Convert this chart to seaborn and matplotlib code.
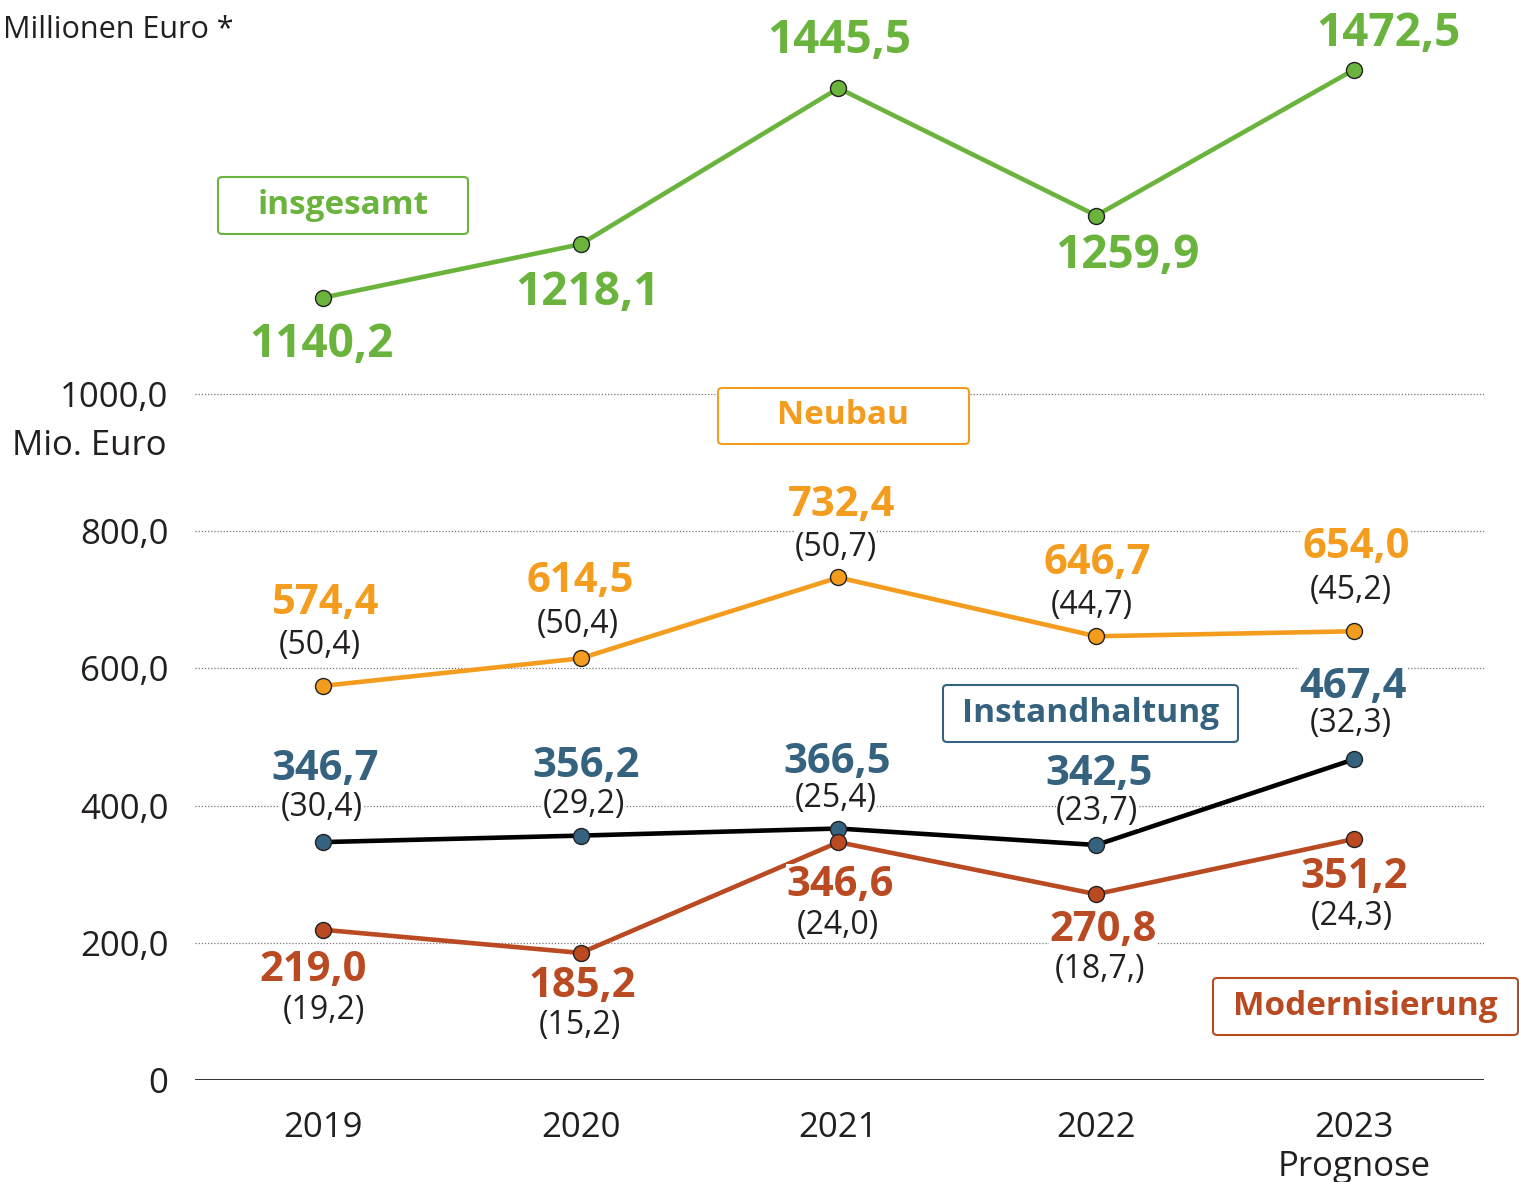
import pandas as pd
import seaborn as sns
import matplotlib.pyplot as plt
from matplotlib.patches import FancyBboxPatch

years = [2019, 2020, 2021, 2022, 2023]
year_labels = ['2019', '2020', '2021', '2022', '2023\nPrognose']

insgesamt = [1140.2, 1218.1, 1445.5, 1259.9, 1472.5]
neubau = [574.4, 614.5, 732.4, 646.7, 654.0]
instandhaltung = [346.7, 356.2, 366.5, 342.5, 467.4]
modernisierung = [219.0, 185.2, 346.6, 270.8, 351.2]

neubau_anteil = ['(50,4)', '(50,4)', '(50,7)', '(44,7)', '(45,2)']
instand_anteil = ['(30,4)', '(29,2)', '(25,4)', '(23,7)', '(32,3)']
modern_anteil = ['(19,2)', '(15,2)', '(24,0)', '(18,7,)', '(24,3)']

yticks = [0, 200, 400, 600, 800, 1000]
ytick_labels = ['0', '200,0', '400,0', '600,0', '800,0', '1000,0']

GREEN = '#6ab43e'
ORANGE = '#f49c1d'
BLUE = '#35627e'
RED = '#b94a22'
DARK = '#231f20'

sns.set_theme(style='white')
plt.rcParams['font.family'] = ['Open Sans', 'DejaVu Sans']

W, H = 1519, 1182
fig = plt.figure(figsize=(W / 100, H / 100), dpi=100)
ax = fig.add_axes([195 / W, 1 - 1080 / H, (1484 - 195) / W, 1080 / H])

df = pd.DataFrame({'Jahr': years, 'insgesamt': insgesamt, 'Neubau': neubau,
                   'Instandhaltung': instandhaltung, 'Modernisierung': modernisierung})

for ytk in yticks[1:]:
    ax.axhline(ytk, color='#777777', lw=0.9, ls=(0, (1, 1.5)), zorder=0)
ax.axhline(0, color=DARK, lw=2, zorder=1)

series = [
    ('insgesamt', GREEN, GREEN),
    ('Neubau', ORANGE, ORANGE),
    ('Instandhaltung', 'black', BLUE),
    ('Modernisierung', RED, RED),
]
for col, lc, mc in series:
    sns.lineplot(data=df, x='Jahr', y=col, ax=ax, color=lc, lw=3.3, marker='o',
                 markersize=11.5, markerfacecolor=mc, markeredgecolor='#222222',
                 markeredgewidth=1, zorder=3)

ax.set_xlim(2018.504, 2023.504)
ax.set_ylim(0, 1574)
ax.set_xticks(years)
ax.set_xticklabels(year_labels)
ax.set_yticks(yticks)
ax.set_yticklabels(ytick_labels)
ax.tick_params(axis='both', length=0, labelsize=25, labelcolor=DARK)
ax.tick_params(axis='x', pad=22)
ax.tick_params(axis='y', pad=19)
ax.set_xlabel('')
ax.set_ylabel('')
for s in ax.spines.values():
    s.set_visible(False)

white = dict(facecolor='white', edgecolor='none', pad=0.5)

def label(vals, offs, color, size, bold=True, box=True):
    for x, v, txt, (dx, dy) in zip(years, vals[0], vals[1], offs):
        ax.annotate(txt, (x, v), xytext=(dx, dy), textcoords='offset pixels',
                    ha='center', va='center', fontsize=size, color=color,
                    fontweight='bold' if bold else 'normal',
                    bbox=white if box else None, zorder=5, annotation_clip=False)

fmt = lambda v: f'{v:.1f}'.replace('.', ',')

label((insgesamt, [fmt(v) for v in insgesamt]),
      [(-1, -47), (7, -48), (1, 48), (31, -40), (34, 36)], GREEN, 33, box=False)

label((neubau, [fmt(v) for v in neubau]),
      [(3, 82), (0, 77), (3, 72), (1, 73), (2, 84)], ORANGE, 30)
label((neubau, neubau_anteil),
      [(-3, 40), (-3, 34), (-3, 30), (-4, 31), (-3, 41)], DARK, 23, bold=False)

label((instandhaltung, [fmt(v) for v in instandhaltung]),
      [(2, 73), (5, 69), (-1, 66), (3, 70), (-1, 72)], BLUE, 30)
label((instandhaltung, instand_anteil),
      [(-1, 35), (3, 31), (-3, 30), (1, 33), (-3, 36)], DARK, 23, bold=False)

label((modernisierung, [fmt(v) for v in modernisierung]),
      [(-10, -41), (2, -34), (2, -43), (7, -36), (0, -38)], RED, 30)
label((modernisierung, modern_anteil),
      [(1, -81), (-1, -73), (-1, -83), (4, -75), (-2, -77)], DARK, 23, bold=False)

# Legendenkästen
def box(x0, y0, x1, y1, text, color):
    fig.patches.append(FancyBboxPatch((x0 / W, 1 - y1 / H), (x1 - x0) / W, (y1 - y0) / H,
                                      boxstyle='round,pad=0,rounding_size=0.003',
                                      transform=fig.transFigure, facecolor='white',
                                      edgecolor=color, lw=1.5, zorder=4))
    fig.text((x0 + x1) / 2 / W, 1 - (y0 + y1) / 2 / H, text, ha='center', va='center',
             color=color, fontsize=24, fontweight='bold', zorder=6)

box(218, 177, 468, 234, 'insgesamt', GREEN)
box(718, 388, 969, 444, 'Neubau', ORANGE)
box(943, 685, 1238, 742, 'Instandhaltung', BLUE)
box(1213, 978, 1518, 1035, 'Modernisierung', RED)

fig.text(3 / W, 1 - 30 / H, 'Millionen Euro *', ha='left', va='center', fontsize=22, color=DARK)
fig.text(167 / W, 1 - 446 / H, 'Mio. Euro', ha='right', va='center', fontsize=25, color=DARK)

fig.savefig('out.png', dpi=100)
